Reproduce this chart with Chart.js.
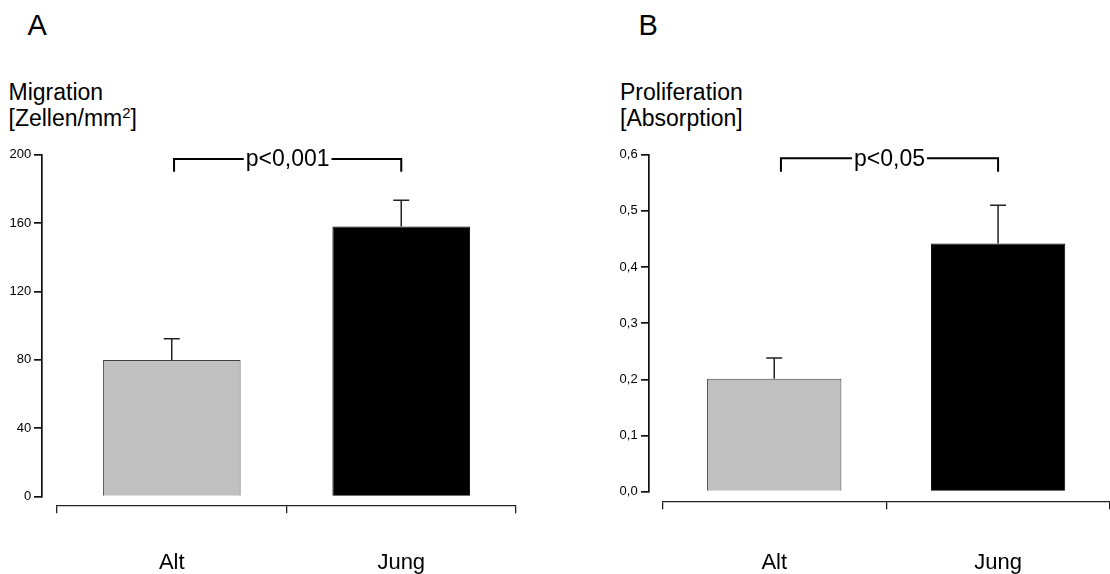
<!DOCTYPE html>
<html><head><meta charset="utf-8">
<script src="https://cdn.jsdelivr.net/npm/chart.js@4.4.1/dist/chart.umd.min.js"></script>
<style>
body{margin:0;background:#fff;width:1110px;height:574px;overflow:hidden;position:relative;font-family:"Liberation Sans",Arial,sans-serif;}
.c{position:absolute;top:0;width:555px;height:574px;}
.t{position:absolute;color:#000;white-space:nowrap;line-height:1;}
sup{font-size:15px;position:relative;top:-8px;vertical-align:baseline;line-height:0;}
</style></head><body>
<div class="t" style="left:27.5px;top:10.5px;font-size:29px">A</div>
<div class="t" style="left:8.5px;top:80.5px;font-size:23px">Migration</div>
<div class="t" style="left:8.5px;top:107px;font-size:23px">[Zellen/mm<sup>2</sup>]</div>
<div class="t" style="left:638.5px;top:10.5px;font-size:29px">B</div>
<div class="t" style="left:620px;top:80.5px;font-size:23px">Proliferation</div>
<div class="t" style="left:620px;top:107px;font-size:23px">[Absorption]</div>
<div class="c" style="left:0"><canvas id="cA" width="555" height="574"></canvas></div>
<div class="c" style="left:555px"><canvas id="cB" width="555" height="574"></canvas></div>
<script>
const categories = ['Alt', 'Jung'];
const migrationValues = [80, 158];
const migrationErrors = [12.4, 15.3];
const proliferationValues = [0.201, 0.442];
const proliferationErrors = [0.037, 0.068];
const migrationTicks = [0, 40, 80, 120, 160, 200];
const proliferationTicks = [0, 0.1, 0.2, 0.3, 0.4, 0.5, 0.6];
const migrationP = 'p<0,001';
const proliferationP = 'p<0,05';
const barColors = ['#c0c0c0', '#000000'];
const barBorders = ['#404040', '#000000'];
const FONT = '"Liberation Sans", Arial, sans-serif';

const annot = {
  id: 'annot',
  afterDatasetsDraw(chart, args, o) {
    const ctx = chart.ctx, xs = chart.scales.x, ys = chart.scales.y;
    const meta = chart.getDatasetMeta(0);
    ctx.save();
    // error bars (upper only)
    ctx.strokeStyle = '#222';
    ctx.lineWidth = 1.5;
    meta.data.forEach((bar, i) => {
      const top = ys.getPixelForValue(o.values[i] + o.errors[i]);
      ctx.beginPath();
      ctx.moveTo(bar.x, bar.y); ctx.lineTo(bar.x, top);
      ctx.moveTo(bar.x - 8, top); ctx.lineTo(bar.x + 8, top);
      ctx.stroke();
    });
    // significance bracket
    const x0 = xs.getPixelForValue(o.from), x1 = xs.getPixelForValue(o.to);
    const by = ys.getPixelForValue(o.level), bd = ys.getPixelForValue(o.drop);
    ctx.font = '23px ' + FONT;
    const tw = ctx.measureText(o.label).width;
    const xm = (x0 + x1) / 2;
    ctx.lineWidth = 2; ctx.strokeStyle = '#000';
    ctx.beginPath();
    ctx.moveTo(x0, bd); ctx.lineTo(x0, by); ctx.lineTo(xm - tw / 2 - 2, by);
    ctx.moveTo(xm + tw / 2 + 2, by); ctx.lineTo(x1, by); ctx.lineTo(x1, bd);
    ctx.stroke();
    ctx.fillStyle = '#000'; ctx.textAlign = 'center'; ctx.textBaseline = 'middle';
    ctx.fillText(o.label, xm, by + 1);
    // y tick labels, left of the (offset) y axis
    const ax = xs.getPixelForValue(o.yAxisAt);
    ctx.font = '13px ' + FONT;
    ctx.textAlign = 'right';
    ys.ticks.forEach(t => {
      ctx.fillText(o.fmt(t.value), ax - 11, ys.getPixelForValue(t.value));
    });
    ctx.restore();
  }
};

function makeChart(id, values, errors, ticks, fmt, pad, yAxisAt, xAxisAt, labelPad, br) {
  return new Chart(document.getElementById(id), {
    type: 'bar',
    data: {
      labels: categories,
      datasets: [{
        data: values,
        backgroundColor: barColors,
        borderColor: barBorders,
        borderWidth: 1,
        barPercentage: 0.6,
        categoryPercentage: 1.0
      }]
    },
    options: {
      responsive: false,
      animation: false,
      layout: { padding: pad },
      plugins: {
        legend: { display: false },
        tooltip: { enabled: false },
        annot: Object.assign({ values: values, errors: errors, yAxisAt: yAxisAt, fmt: fmt }, br)
      },
      scales: {
        x: {
          position: { y: xAxisAt },
          offset: true,
          grid: { offset: true, drawOnChartArea: false, drawTicks: true, tickLength: 7, color: '#222', lineWidth: 1.3 },
          border: { display: true, color: '#222', width: 1.3 },
          ticks: { color: '#000', padding: labelPad, font: { size: 22, family: FONT } }
        },
        y: {
          position: { x: yAxisAt },
          min: ticks[0],
          max: ticks[ticks.length - 1],
          afterBuildTicks: s => { s.ticks = ticks.map(v => ({ value: v })); },
          grid: { drawOnChartArea: false, drawTicks: true, tickLength: 7, color: '#111', lineWidth: 1.7 },
          border: { display: true, color: '#111', width: 1.7 },
          ticks: { display: false }
        }
      }
    },
    plugins: [annot]
  });
}

makeChart('cA', migrationValues, migrationErrors, migrationTicks,
  v => String(v),
  { left: 57, right: 39, top: 154.7, bottom: 77.3 },
  -0.564, -5.26, 37,
  { from: 0.01, to: 1.0, level: 197.5, drop: 190, label: migrationP });

makeChart('cB', proliferationValues, proliferationErrors, proliferationTicks,
  v => v.toFixed(1).replace('.', ','),
  { left: 107.3, right: 0, top: 154.7, bottom: 82.3 },
  -0.561, -0.0178, 41,
  { from: 0.03, to: 1.0, level: 0.5935, drop: 0.5697, label: proliferationP });
</script>
</body></html>
